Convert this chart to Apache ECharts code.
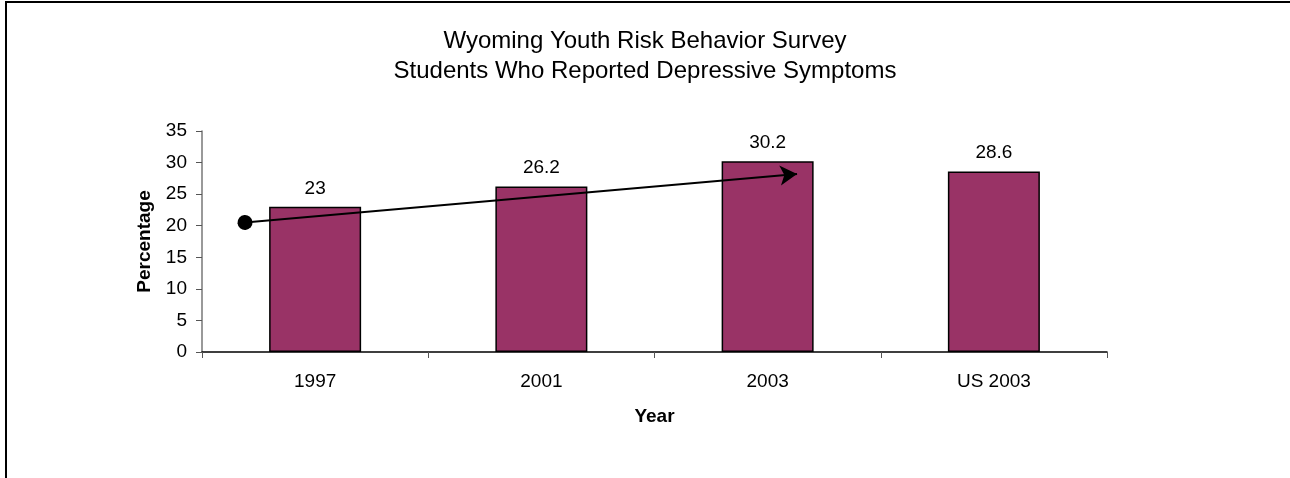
<!DOCTYPE html>
<html>
<head>
<meta charset="utf-8">
<script src="https://cdn.jsdelivr.net/npm/echarts@6/dist/echarts.min.js"></script>
<style>
  html, body { margin: 0; padding: 0; background: #fff; }
  #container { width: 1290px; height: 478px; }
  #frame { position: absolute; left: 5px; top: 1px; width: 1285px; height: 477px; z-index: 10;
           border-left: 2px solid #000; border-top: 2px solid #000; pointer-events: none;
           box-sizing: border-box; }
</style>
</head>
<body>
<div id="container"></div>
<div id="frame"></div>
<script>
var years = ['1997', '2001', '2003', 'US 2003'];
var percents = [23, 26.2, 30.2, 28.6];
// trend arrow, in (category position, percentage) units
var arrowStart = [0.19, 20.5];
var arrowEnd = [2.63, 28.2];

var dom = document.getElementById('container');
var myChart = echarts.init(dom);
var font = "'Liberation Sans', Arial, sans-serif";

var option = {
  animation: false,
  title: {
    text: 'Wyoming Youth Risk Behavior Survey\nStudents Who Reported Depressive Symptoms',
    left: 'center',
    top: 21,
    textStyle: {
      fontFamily: font,
      fontSize: 24,
      fontWeight: 'normal',
      color: '#000',
      lineHeight: 30
    }
  },
  grid: { left: 202, right: 183, top: 131, bottom: 126 },
  xAxis: [{
    type: 'category',
    data: years,
    name: 'Year',
    nameLocation: 'middle',
    nameGap: 55,
    nameTextStyle: { fontFamily: font, fontSize: 19, fontWeight: 'bold', color: '#000' },
    axisLine: { lineStyle: { color: '#000', width: 1.5 } },
    axisTick: { show: true, length: 6, lineStyle: { color: '#555' } },
    axisLabel: { fontFamily: font, fontSize: 19, color: '#000', margin: 20 }
  }, {
    type: 'value',
    min: 0,
    max: 4,
    show: false
  }],
  yAxis: {
    type: 'value',
    min: 0,
    max: 35,
    interval: 5,
    name: 'Percentage',
    nameLocation: 'middle',
    nameGap: 48,
    nameTextStyle: { fontFamily: font, fontSize: 19, fontWeight: 'bold', color: '#000' },
    axisLine: { show: true, lineStyle: { color: '#777', width: 1.5 } },
    axisTick: { show: true, length: 6, lineStyle: { color: '#555' } },
    axisLabel: { fontFamily: font, fontSize: 19, color: '#000', margin: 15 },
    splitLine: { show: false }
  },
  series: [{
    type: 'bar',
    data: percents,
    barWidth: 92,
    itemStyle: { color: '#993366', borderColor: '#000', borderWidth: 1.5 },
    label: {
      show: true,
      position: 'top',
      distance: 9,
      fontFamily: font,
      fontSize: 19,
      color: '#000'
    }
  }, {
    type: 'line',
    xAxisIndex: 1,
    data: [arrowStart, arrowEnd],
    symbol: 'none',
    lineStyle: { opacity: 0 },
    silent: true,
    markLine: {
      silent: true,
      symbol: ['circle', 'arrow'],
      symbolSize: [15, 17],
      label: { show: false },
      lineStyle: { color: '#000', width: 2, type: 'solid' },
      data: [[{ coord: arrowStart }, { coord: arrowEnd }]]
    }
  }]
};

myChart.setOption(option);
</script>
</body>
</html>
